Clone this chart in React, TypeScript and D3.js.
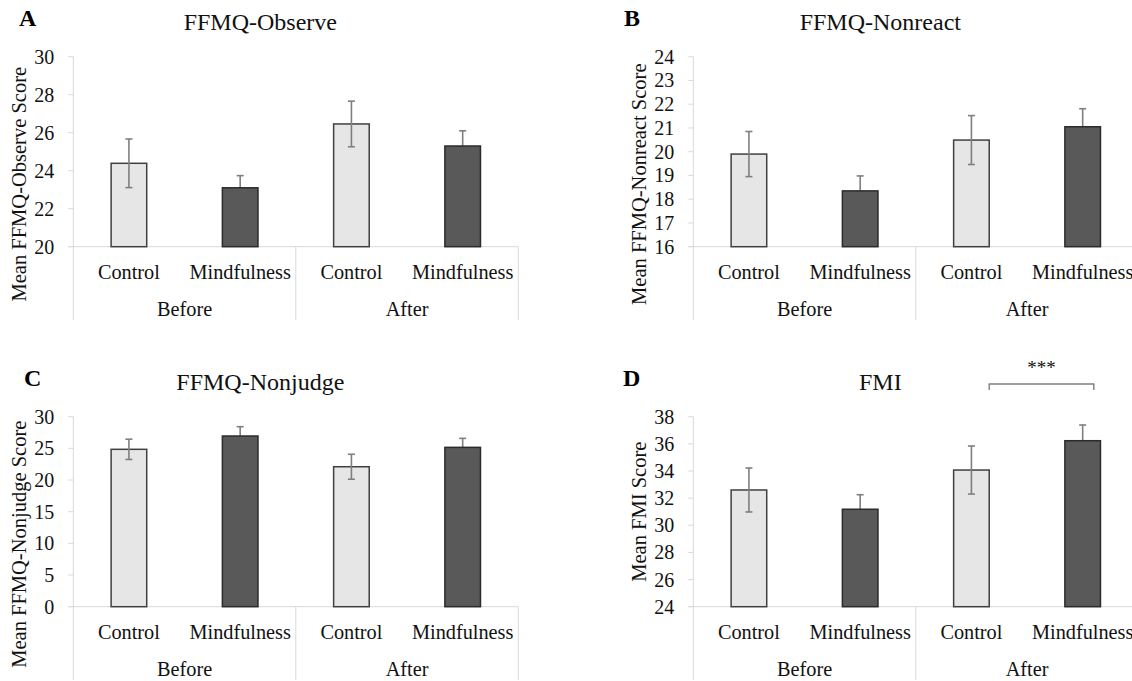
import React from 'react';
import * as d3 from 'd3';

const groups = ['Before', 'After'];
const conditions = ['Control', 'Mindfulness'];

const observeMeans = [24.39, 23.1, 26.46, 25.3];
const observeErrors = [1.28, 0.64, 1.2, 0.8];
const nonreactMeans = [19.9, 18.35, 20.49, 21.05];
const nonreactErrors = [0.95, 0.63, 1.03, 0.76];
const nonjudgeMeans = [24.85, 26.95, 22.1, 25.16];
const nonjudgeErrors = [1.6, 1.47, 1.97, 1.42];
const fmiMeans = [32.6, 31.18, 34.07, 36.23];
const fmiErrors = [1.62, 1.07, 1.77, 1.16];

const observeTicks = [20, 22, 24, 26, 28, 30];
const nonreactTicks = [16, 17, 18, 19, 20, 21, 22, 23, 24];
const nonjudgeTicks = [0, 5, 10, 15, 20, 25, 30];
const fmiTicks = [24, 26, 28, 30, 32, 34, 36, 38];

const FONT = 'Liberation Serif';

const categories = groups.flatMap((g) => conditions.map((c) => `${g}|${c}`));

type PanelProps = {
  letter: string;
  letterX: number;
  title: string;
  yLabel: string;
  yLabelCenterOffset: number;
  means: number[];
  errors: number[];
  ticks: number[];
  axisX: number;
  top: number;
  sig?: { from: number; to: number; label: string };
};

const PLOT_W = 445;
const PLOT_H = 190;

function Panel(p: PanelProps) {
  const x = d3.scaleBand<string>().domain(categories).range([p.axisX, p.axisX + PLOT_W]).padding(0);
  const y = d3
    .scaleLinear()
    .domain([p.ticks[0], p.ticks[p.ticks.length - 1]])
    .range([p.top + PLOT_H, p.top]);
  const base = p.top + PLOT_H;
  const bw = x.bandwidth();
  const barW = bw * 0.32;
  const capW = 7;
  const axisColor = '#d9d9d9';

  return (
    <g>
      <text x={p.letterX} y={p.top - 31} fontFamily={FONT} fontWeight="bold" fontSize={24} fill="#000">
        {p.letter}
      </text>
      <text x={p.axisX + 187} y={p.top - 26.5} fontFamily={FONT} fontSize={24} textAnchor="middle" fill="#111">
        {p.title}
      </text>
      <text
        transform={`translate(${p.axisX - 47},${p.top + p.yLabelCenterOffset}) rotate(-90)`}
        fontFamily={FONT}
        fontSize={20.5}
        textAnchor="middle"
        fill="#111"
      >
        {p.yLabel}
      </text>
      <line x1={p.axisX} x2={p.axisX} y1={p.top} y2={base + 73.3} stroke={axisColor} strokeWidth={1} />
      {p.ticks.map((t) => (
        <g key={t}>
          <line x1={p.axisX - 5} x2={p.axisX} y1={y(t)} y2={y(t)} stroke={axisColor} strokeWidth={1} />
          <text
            x={p.axisX - 19}
            y={y(t)}
            dy="0.35em"
            fontFamily={FONT}
            fontSize={20}
            textAnchor="end"
            fill="#111"
          >
            {t}
          </text>
        </g>
      ))}
      <line x1={p.axisX - 5} x2={p.axisX + PLOT_W} y1={base} y2={base} stroke={axisColor} strokeWidth={1} />
      {[1, 2].map((i) => (
        <line
          key={i}
          x1={p.axisX + (PLOT_W / 2) * i}
          x2={p.axisX + (PLOT_W / 2) * i}
          y1={base}
          y2={base + 73.3}
          stroke={axisColor}
          strokeWidth={1}
        />
      ))}
      {categories.map((cat, i) => {
        const cx = (x(cat) as number) + bw / 2;
        const isDark = cat.endsWith('Mindfulness');
        const v = p.means[i];
        const e = p.errors[i];
        const err = (
          <g key={`e${i}`} stroke="#7f7f7f" strokeWidth={1.6}>
            <line x1={cx} x2={cx} y1={y(v + e)} y2={y(v - e)} />
            <line x1={cx - capW / 2} x2={cx + capW / 2} y1={y(v + e)} y2={y(v + e)} />
            <line x1={cx - capW / 2} x2={cx + capW / 2} y1={y(v - e)} y2={y(v - e)} />
          </g>
        );
        const bar = (
          <rect
            key={`b${i}`}
            x={cx - barW / 2}
            y={y(v)}
            width={barW}
            height={base - y(v)}
            fill={isDark ? '#595959' : '#e6e6e6'}
            stroke={isDark ? '#2b2b2b' : '#404040'}
            strokeWidth={1.5}
          />
        );
        return <g key={cat}>{isDark ? [err, bar] : [bar, err]}</g>;
      })}
      {categories.map((cat) => (
        <text
          key={`l${cat}`}
          x={(x(cat) as number) + bw / 2}
          y={base + 32.6}
          fontFamily={FONT}
          fontSize={20.3}
          textAnchor="middle"
          fill="#111"
        >
          {cat.split('|')[1]}
        </text>
      ))}
      {groups.map((g, gi) => (
        <text
          key={g}
          x={p.axisX + (PLOT_W / 2) * gi + PLOT_W / 4}
          y={base + 69.3}
          fontFamily={FONT}
          fontSize={20.3}
          textAnchor="middle"
          fill="#111"
        >
          {g}
        </text>
      ))}
      {p.sig && (() => {
        const x1 = (x(categories[p.sig.from]) as number) + bw * 0.66;
        const x2 = (x(categories[p.sig.to]) as number) + bw * 0.6;
        const by = p.top - 32.7;
        return (
          <g>
            <path
              d={`M${x1},${by + 6} V${by} H${x2} V${by + 6}`}
              fill="none"
              stroke="#7f7f7f"
              strokeWidth={1.4}
            />
            <text x={(x1 + x2) / 2} y={by - 10} fontFamily={FONT} fontSize={19} textAnchor="middle" fill="#111">
              {p.sig.label}
            </text>
          </g>
        );
      })()}
    </g>
  );
}

export default function App() {
  return (
    <svg
      width={1132}
      height={681}
      viewBox="0 0 1132 681"
      style={{ position: 'absolute', left: 0, top: 0, background: '#fff', display: 'block' }}
    >
      <rect x={0} y={0} width={1132} height={681} fill="#fff" />
      <Panel
        letter="A"
        letterX={19}
        title="FFMQ-Observe"
        yLabel="Mean FFMQ-Observe Score"
        yLabelCenterOffset={127.5}
        means={observeMeans}
        errors={observeErrors}
        ticks={observeTicks}
        axisX={73.3}
        top={56.7}
      />
      <Panel
        letter="B"
        letterX={624}
        title="FFMQ-Nonreact"
        yLabel="Mean FFMQ-Nonreact Score"
        yLabelCenterOffset={127.5}
        means={nonreactMeans}
        errors={nonreactErrors}
        ticks={nonreactTicks}
        axisX={693.3}
        top={56.7}
      />
      <Panel
        letter="C"
        letterX={24}
        title="FFMQ-Nonjudge"
        yLabel="Mean FFMQ-Nonjudge Score"
        yLabelCenterOffset={127.5}
        means={nonjudgeMeans}
        errors={nonjudgeErrors}
        ticks={nonjudgeTicks}
        axisX={73.3}
        top={416.7}
      />
      <Panel
        letter="D"
        letterX={623}
        title="FMI"
        yLabel="Mean FMI Score"
        yLabelCenterOffset={95}
        means={fmiMeans}
        errors={fmiErrors}
        ticks={fmiTicks}
        axisX={693.3}
        top={416.7}
        sig={{ from: 2, to: 3, label: '***' }}
      />
    </svg>
  );
}
